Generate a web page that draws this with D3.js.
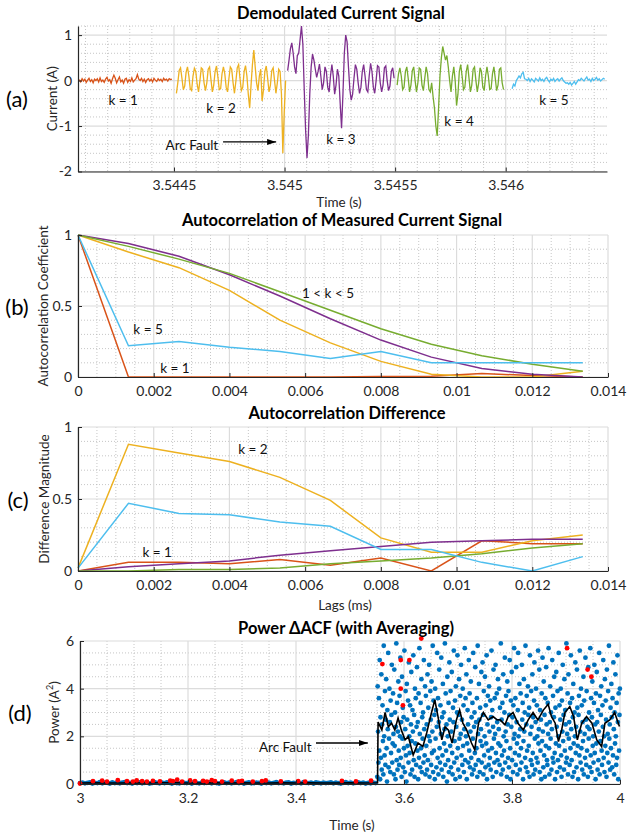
<!DOCTYPE html>
<html><head><meta charset="utf-8">
<script src="https://cdnjs.cloudflare.com/ajax/libs/d3/7.8.5/d3.min.js"></script>
<style>body{margin:0;background:#fff}svg{display:block}text{font-family:Lato,"Open Sans",sans-serif}</style>
</head><body><svg id="c" width="628" height="835"></svg>
<script>
// ---------------- DATA ----------------
// Panel (a): demodulated current, one segment per window k (A), sampled every sampleStepA seconds
const sampleStepA = 6.25e-6;
const segStartA = [3.544072, 3.544511, 3.545014, 3.545509, 3.546029];
const curK1 = [0.02,-0.03,0.04,-0.01,0.03,-0.04,0.01,0.05,-0.02,0.02,-0.05,0.03,0.00,0.04,-0.03,0.06,-0.02,0.01,-0.04,0.03,0.07,-0.01,0.02,-0.06,0.04,0.12,0.05,-0.05,0.02,0.08,-0.03,0.01,-0.06,0.03,0.05,-0.04,0.02,-0.02,0.06,-0.03,0.01,0.04,0.13,0.03,0.00,0.05,-0.02,0.03,-0.04,0.02,0.04,-0.01,0.03,-0.03,0.05,0.01,-0.02,0.04,0.00,0.03,-0.02,0.05,0.01,0.03,-0.01,0.04,0.02,0.03];
const curK2 = [-0.28,-0.05,0.22,0.28,0.05,-0.2,-0.12,0.18,0.30,0.10,-0.18,-0.22,0.10,0.27,0.2,-0.08,-0.25,0.0,0.28,0.25,-0.05,-0.22,-0.05,0.25,0.3,0.02,-0.25,-0.1,0.2,0.32,0.08,-0.2,-0.18,0.15,0.3,0.15,-0.15,-0.25,0.05,0.3,0.25,-0.05,-0.28,-0.02,0.28,0.35,0.05,-0.22,-0.15,0.2,0.33,0.1,-0.3,-0.6,-0.1,0.35,0.67,0.3,-0.05,-0.22,0.1,0.25,-0.45,-0.2,0.2,0.32,0.05,-0.25,-0.1,0.22,0.28,0.0,-0.28,-0.05,0.25,0.2,-0.3,-1.6,-0.7,0.0];
const curK3 = [0.22,0.45,0.7,0.83,0.6,0.3,0.15,0.55,0.6,0.9,1.2,0.8,-0.2,-1.1,-1.7,-1.2,-0.3,0.3,0.58,0.45,0.25,0.07,0.2,0.36,0.1,-0.2,-0.05,0.3,0.2,-0.15,-0.25,0.1,0.35,0.1,-0.3,-0.1,0.25,0.1,-0.5,-1.05,-0.3,0.6,1.0,0.85,0.3,-0.2,-0.43,-0.3,0.05,0.35,0.25,-0.05,-0.28,-0.15,0.2,0.35,0.1,-0.2,-0.25,0.1,0.38,0.2,-0.15,-0.28,0.0,0.33,0.3,-0.05,-0.25,-0.1,0.28,0.32,0.0,-0.22,-0.12,0.2,0.28,0.05];
const curK4 = [-0.1,0.15,0.28,0.1,-0.2,-0.15,0.2,0.3,0.05,-0.25,-0.1,0.22,0.3,0.0,-0.25,-0.05,0.28,0.25,-0.1,-0.22,0.05,0.3,0.15,-0.2,-0.25,-0.05,-0.35,-0.6,-1.0,-1.22,-0.6,0.1,0.5,0.75,0.6,0.45,0.55,0.3,0.0,-0.25,0.1,0.3,0.0,-0.55,-0.3,0.2,0.35,0.1,-0.2,-0.15,0.2,0.35,0.05,-0.25,-0.1,0.25,0.3,0.0,-0.25,-0.05,0.28,0.2,-0.15,-0.22,0.1,0.3,0.1,-0.2,-0.18,0.15,0.3,0.05,-0.22,-0.1,0.25,0.28,-0.05,-0.2];
const curK5 = [-0.18,-0.08,-0.12,0.0,0.05,0.1,0.06,0.15,0.18,0.04,0.03,0.0,0.05,-0.02,0.04,0.01,-0.03,0.05,0.02,-0.01,0.06,0.0,0.03,-0.02,0.04,0.07,0.01,-0.03,0.03,0.0,0.05,-0.02,0.02,0.04,-0.01,0.03,0.06,0.0,-0.03,-0.06,-0.05,-0.08,-0.04,-0.1,-0.06,-0.02,-0.08,-0.03,0.02,0.0,0.05,0.02,-0.01,0.04,0.08,0.01,0.03,-0.02,0.05,0.0,0.03,0.07,0.01,0.04,-0.01,0.02,0.05,0.03];
const segNames = ["k = 1","k = 2","k = 3","k = 4","k = 5"];
const segColors = ["#d95319","#edb120","#7e2f8e","#77ac30","#4dbeee"];

// Panels (b) and (c): lags (s)
const lags = [0,0.001333,0.002667,0.004,0.005333,0.006667,0.008,0.009333,0.010667,0.012,0.013333];
const acfK1 = [1,0,0,0,0,0,0.003,0.005,0.025,0.01,0];
const acfK2 = [1,0.88,0.77,0.61,0.40,0.24,0.11,0.02,0.0,0.0,0.04];
const acfK3 = [1,0.94,0.85,0.72,0.57,0.41,0.26,0.14,0.06,0.02,0.0];
const acfK4 = [1,0.92,0.83,0.73,0.60,0.47,0.34,0.23,0.15,0.09,0.04];
const acfK5 = [1,0.22,0.25,0.21,0.18,0.13,0.18,0.10,0.10,0.10,0.10];
const difK1 = [0,0.06,0.06,0.05,0.08,0.04,0.09,0.0,0.21,0.19,0.19];
const difK2 = [0.02,0.88,0.82,0.76,0.65,0.49,0.23,0.13,0.13,0.21,0.25];
const difK3 = [0,0.03,0.05,0.07,0.11,0.14,0.17,0.20,0.21,0.22,0.22];
const difK4 = [0,0.0,0.01,0.01,0.02,0.05,0.07,0.09,0.12,0.16,0.19];
const difK5 = [0.02,0.47,0.40,0.39,0.34,0.31,0.15,0.15,0.06,0.0,0.10];

// Panel (d): power of delta-ACF (A^2)
const preStart = 3.0, preStep = 0.0046;
const powerPre = [0.04,0.06,0.03,0.05,0.07,0.02,0.05,0.04,0.08,0.03,0.06,0.05,0.02,0.07,0.04,0.05,0.03,0.06,0.08,0.04,0.05,0.02,0.06,0.04,0.07,0.03,0.05,0.06,0.02,0.04,0.08,0.05,0.03,0.06,0.04,0.07,0.05,0.02,0.06,0.04,0.03,0.07,0.05,0.04,0.06,0.02,0.08,0.05,0.03,0.06,0.04,0.05,0.07,0.03,0.06,0.04,0.02,0.05,0.07,0.04,0.06,0.03,0.05,0.08,0.04,0.06,0.02,0.05,0.07,0.03,0.04,0.06,0.05,0.02,0.07,0.04,0.06,0.03,0.05,0.08,0.04,0.05,0.03,0.06,0.07,0.02,0.05,0.04,0.06,0.03,0.08,0.05,0.04,0.06,0.02,0.07,0.05,0.03,0.06,0.04,0.05,0.07,0.03,0.06,0.04,0.02,0.05,0.08,0.04,0.06,0.03,0.05,0.07,0.04,0.06,0.02,0.05,0.03,0.06,0.04];
const postStart = 3.5505, postStep = 0.00075;
const powerPost = [0.3,4.1,2.2,0.9,3.6,1.4,5.2,0.2,2.8,1.1,4.6,0.6,2.5,3.3,1.8,0.4,5.8,2.0,1.2,3.9,
0.8,2.7,4.4,1.5,0.1,3.1,2.3,5.5,0.7,1.9,4.0,2.6,0.5,3.5,1.3,2.9,5.0,0.9,1.7,3.8,
2.1,0.4,4.8,1.6,3.0,0.2,2.4,5.9,1.0,3.4,0.6,2.2,4.3,1.4,0.8,3.7,2.0,5.3,1.1,2.6,
0.3,4.5,1.9,3.2,0.7,2.8,1.5,5.6,0.5,2.3,3.9,1.2,0.1,4.2,2.7,1.6,3.5,0.9,5.1,2.0,
1.3,3.3,0.4,2.5,4.7,1.8,0.6,3.1,2.2,5.4,1.0,2.9,0.3,4.0,1.7,3.6,0.8,2.4,4.9,1.4,
2.6,0.2,3.8,1.1,5.7,2.1,0.7,3.4,1.5,4.4,0.5,2.8,1.9,3.0,0.9,5.2,2.3,1.2,4.1,0.4,
3.7,1.6,2.5,0.6,4.6,1.0,3.2,2.0,5.0,0.3,1.8,3.9,2.7,0.8,4.3,1.3,2.2,5.8,0.5,3.5,
1.4,2.9,0.2,4.0,1.9,3.1,0.7,2.4,5.5,1.1,3.6,0.4,2.6,4.8,1.5,0.9,3.3,2.1,5.3,0.6,
2.8,1.2,4.2,0.3,3.0,1.7,2.3,5.9,0.8,3.8,1.4,2.5,0.1,4.5,2.0,1.0,3.4,0.5,5.1,2.7,
1.6,3.9,0.7,2.2,4.7,1.3,0.4,3.2,2.6,5.6,0.9,1.8,3.5,0.2,4.1,2.4,1.1,3.0,5.4,1.5,
0.6,2.9,4.4,1.9,0.3,3.7,2.1,5.0,1.2,2.7,0.8,4.0,1.6,3.3,0.5,2.3,5.7,1.0,3.6,2.0,
4.6,0.2,1.7,3.1,2.5,0.9,5.2,1.4,3.8,0.7,2.2,4.3,1.1,2.8,0.4,3.4,1.9,5.5,0.6,2.4,
3.0,1.3,4.9,0.8,2.6,1.5,3.6,0.3,5.8,2.1,1.0,4.2,2.7,0.5,3.2,1.8,2.3,4.7,0.9,1.6,
5.1,2.9,0.4,3.9,1.2,2.0,4.5,0.7,3.3,1.7,5.4,0.2,2.5,3.7,1.4,0.8,4.1,2.2,1.1,3.5,
0.6,2.8,5.6,1.5,3.1,0.3,2.4,4.8,1.9,0.9,3.6,2.1,5.0,1.3,0.5,3.8,2.6,1.0,4.4,1.7,
2.3,4.0,0.8,3.2,1.6,5.9,0.4,2.7,1.2,3.4,0.6,4.6,2.0,1.4,3.0,5.3,0.9,2.2,3.7,1.8,
0.3,4.3,2.5,1.1,3.9,0.7,2.9,5.2,1.5,0.2,3.5,2.4,4.7,1.0,2.8,0.5,3.3,1.9,5.7,2.1,
1.3,3.6,0.8,4.9,2.6,1.7,0.4,3.1,5.5,2.0,1.2,4.2,0.6,2.3,3.8,1.5,0.9,5.0,2.7,3.4,
0.2,1.8,4.4,2.2,3.0,1.1,5.8,0.7,2.5,3.7,1.4,0.5,4.1,2.9,1.6,3.2,0.3,5.4,2.1,1.0,
3.9,2.4,0.8,4.6,1.3,2.8,0.4,3.5,5.1,1.9,0.6,2.6,4.0,1.1,3.3,2.0,0.9,5.6,1.7,2.3,
4.8,0.5,3.1,1.4,2.7,0.2,3.8,1.8,5.3,2.2,0.7,4.3,1.2,2.9,0.3,3.6,1.6,4.9,2.5,1.0,
0.8,3.4,2.1,5.7,1.5,0.4,2.6,4.1,1.9,3.0,0.6,2.3,5.2,1.1,3.7,0.9,2.8,4.5,1.3,0.2,
3.2,1.7,4.7,2.4,0.5,3.9,1.0,2.0,5.5,1.6,3.3,0.7,2.7,4.0,1.2,0.3,3.5,2.2,5.0,1.8,
2.9,0.6,4.4,1.4,3.1,2.5,0.9,5.9,1.1,2.1,3.8,0.4,4.6,1.9,2.6,0.8,3.4,1.5,5.4,2.3,
1.0,3.6,0.3,2.8,4.2,1.7,0.5,3.0,2.0,5.1,1.3,2.4,0.7,4.8,3.2,1.6,0.2,2.9,3.7,1.2,
5.6,2.2,0.9,4.0,1.5,3.3,0.6,2.6,1.8,4.5,0.4,3.5,2.1,1.1,5.3,2.7,0.8,3.9,1.4,2.4,
0.3,4.9,1.9,3.0,2.3,0.7,5.7,1.2,3.6,0.5,2.8,4.3,1.6,2.0,0.9,3.4,5.0,1.3,2.5,0.2,
3.8,1.7,4.7,2.6,0.6,3.1,1.0,2.2,5.5,0.4,3.7,1.8,2.9,4.1,1.4,0.8,3.3,2.4,5.2,1.1,
2.0,0.5,4.4,1.6,3.5,2.7,0.3,4.8,1.3,2.1,3.9,0.9,5.8,1.9,2.5,0.6,3.2,1.5,4.2,2.8,
0.7,3.6,1.2,5.1,2.3,0.4,3.0,1.7,4.6,2.0,0.8,3.4,1.1,5.4,2.6,0.2,3.8,1.4,2.9,4.0];
const avgTime = [3.000,3.025,3.050,3.075,3.100,3.125,3.150,3.175,3.200,3.225,3.250,3.275,3.300,3.325,3.350,3.375,3.400,3.425,3.450,3.475,3.500,3.525,3.551,
3.552,3.559,3.565,3.571,3.577,3.583,3.589,3.595,3.602,3.608,3.617,3.626,3.635,3.642,3.651,3.657,3.663,3.670,3.676,3.682,3.689,3.697,3.703,3.709,3.716,3.725,3.731,3.738,3.747,3.756,3.765,3.772,3.778,3.787,3.793,3.802,3.811,3.821,3.830,3.839,3.848,3.858,3.867,3.873,3.880,3.886,3.892,3.898,3.907,3.914,3.921,3.929,3.938,3.948,3.957,3.966,3.972,3.981,3.990,3.999];
const avgPower = [0.04,0.05,0.04,0.04,0.05,0.04,0.05,0.05,0.04,0.04,0.05,0.04,0.05,0.04,0.04,0.05,0.04,0.05,0.04,0.04,0.05,0.04,0.05,
2.6,2.27,3.0,2.4,2.55,2.27,2.77,2.27,1.85,1.99,1.22,1.72,1.58,2.14,3.0,3.53,2.83,1.85,2.4,2.27,1.72,2.69,3.11,2.55,2.27,1.72,1.44,2.55,3.0,2.69,2.83,2.7,2.69,2.48,2.83,3.0,2.55,2.27,2.69,3.0,2.69,3.1,3.35,2.83,2.55,1.78,2.27,3.0,3.25,2.83,1.85,2.55,2.83,2.55,1.85,1.57,2.55,2.69,3.0,2.41];
const redTime = [3.000,3.024,3.041,3.050,3.070,3.087,3.098,3.105,3.115,3.124,3.135,3.148,3.167,3.172,3.180,3.189,3.204,3.213,3.228,3.235,3.244,3.250,3.263,3.281,3.294,3.300,3.320,3.337,3.344,3.372,3.404,3.417,3.485,3.511,3.539,3.560,3.594,3.610,3.594,3.598,3.632,3.902,3.940,3.947];
const redPower = [0.02,0.12,0.14,0.1,0.16,0.12,0.1,0.15,0.12,0.1,0.13,0.11,0.14,0.12,0.18,0.1,0.15,0.12,0.13,0.1,0.16,0.12,0.1,0.14,0.11,0.13,0.1,0.12,0.15,0.11,0.12,0.1,0.13,0.11,0.14,5.03,5.2,5.2,4.0,3.3,6.1,5.7,4.8,4.5];

// ticks
const ticksAx = [3.5445,3.545,3.5455,3.546], ticksAy = [-2,-1,0,1];
const ticksLag = [0,0.002,0.004,0.006,0.008,0.01,0.012,0.014], ticksBy = [0,0.5,1];
const ticksDx = [3,3.2,3.4,3.6,3.8,4], ticksDy = [0,2,4,6];

// ---------------- DRAW ----------------
const svg = d3.select("#c");
const defs = svg.append("defs");
defs.append("marker").attr("id","arr").attr("viewBox","0 0 10 10").attr("refX",10).attr("refY",5)
  .attr("markerWidth",9).attr("markerHeight",6).attr("markerUnits","userSpaceOnUse")
  .attr("preserveAspectRatio","none").attr("orient","auto")
  .append("path").attr("d","M0,0L10,5L0,10z").attr("fill","#000");

const AX = "#262626";
function minorVals(scale, step, major){
  const [a,b] = scale.domain(); const out=[];
  for(let k=Math.ceil(a/step-1e-9); k*step<=b+1e-12; k++){
    const v=k*step; const r=v/major;
    if(Math.abs(r-Math.round(r))>1e-6) out.push(v);
  }
  return out;
}
function fmt(d){ return String(+d.toFixed(4)); }

function panel(cfg){
  const g = svg.append("g");
  const {x,y} = cfg;
  const [xl,xr] = x.range(), [yb,yt] = y.range();
  const gg = g.append("g");
  gg.selectAll(".mx").data(minorVals(x,cfg.xMinor,cfg.xMajor)).join("line")
    .attr("x1",d=>x(d)).attr("x2",d=>x(d)).attr("y1",yt).attr("y2",yb)
    .attr("stroke","#b8b8b8").attr("stroke-width",0.8).attr("stroke-dasharray","1,2");
  gg.selectAll(".my").data(minorVals(y,cfg.yMinor,cfg.yMajor)).join("line")
    .attr("y1",d=>y(d)).attr("y2",d=>y(d)).attr("x1",xl).attr("x2",xr)
    .attr("stroke","#b8b8b8").attr("stroke-width",0.8).attr("stroke-dasharray","1,2");
  gg.selectAll(".Mx").data(cfg.xt).join("line")
    .attr("x1",d=>x(d)).attr("x2",d=>x(d)).attr("y1",yt).attr("y2",yb)
    .attr("stroke","#dcdcdc").attr("stroke-width",1.2);
  gg.selectAll(".My").data(cfg.yt).join("line")
    .attr("y1",d=>y(d)).attr("y2",d=>y(d)).attr("x1",xl).attr("x2",xr)
    .attr("stroke","#dcdcdc").attr("stroke-width",1.2);
  const plot = g.append("g");
  const axes = g.append("g");
  const xa = axes.append("g").attr("transform",`translate(0,${yb})`)
    .call(d3.axisBottom(x).tickValues(cfg.xt).tickSize(-4).tickSizeOuter(0).tickPadding(9).tickFormat(fmt));
  const ya = axes.append("g").attr("transform",`translate(${xl},0)`)
    .call(d3.axisLeft(y).tickValues(cfg.yt).tickSize(-4).tickSizeOuter(0).tickPadding(6).tickFormat(fmt));
  [xa,ya].forEach(a=>{
    a.attr("font-size",14).attr("font-family","Lato");
    a.select(".domain").attr("stroke",AX).attr("stroke-width",1.2);
    a.selectAll(".tick line").attr("stroke",AX);
    a.selectAll(".tick text").attr("fill",AX);
  });
  // title
  g.append("text").attr("x",cfg.titleX).attr("y",cfg.titleY).attr("text-anchor","middle")
    .attr("font-weight","bold").attr("font-size",16.5).attr("fill","#000").text(cfg.title);
  // y label
  g.append("text").attr("transform",`translate(${cfg.ylabX},${(yb+yt)/2}) rotate(-90)`)
    .attr("text-anchor","middle").attr("dominant-baseline","central").attr("font-size",13.5).attr("fill",AX)
    .call(t=>{ t.text(cfg.ylab); if(cfg.ysup){ t.append("tspan").attr("font-size",9).attr("dy",-5).text("2"); t.append("tspan").attr("dy",5).text(")"); }});
  if(cfg.xlab) g.append("text").attr("x",cfg.xlabX).attr("y",cfg.xlabY).attr("text-anchor","middle")
    .attr("dominant-baseline","central").attr("font-size",13.5).attr("fill",AX).text(cfg.xlab);
  g.append("text").attr("x",cfg.tagX).attr("y",(yb+yt)/2).attr("text-anchor","middle").attr("dominant-baseline","central")
    .attr("font-family","'Liberation Serif','Times New Roman',serif").attr("font-size",22).attr("fill","#000").text(cfg.tag);
  return plot;
}
function note(plot, x, y, tx, ty, s){
  plot.append("text").attr("x",x(tx)).attr("y",y(ty)).attr("text-anchor","middle").attr("dominant-baseline","central")
    .attr("font-size",13.5).attr("fill","#111").text(s);
}
function arrow(plot, x, y, t0, t1, v){
  plot.append("line").attr("x1",x(t0)).attr("x2",x(t1)).attr("y1",y(v)).attr("y2",y(v))
    .attr("stroke","#000").attr("stroke-width",1.3).attr("marker-end","url(#arr)");
}

// Panel (a)
{
  const x = d3.scaleLinear().domain([3.544066,3.546458]).range([78,607]);
  const y = d3.scaleLinear().domain([-2,1.2]).range([171.5,26]);
  const p = panel({x,y,xt:ticksAx,yt:ticksAy,xMajor:0.0005,xMinor:0.0001,yMajor:1,yMinor:0.2,
    title:"Demodulated Current Signal",titleX:341,titleY:19,ylab:"Current (A)",ylabX:52,
    xlab:"Time (s)",xlabX:339,xlabY:202,tag:"(a)",tagX:17});
  const segs=[curK1,curK2,curK3,curK4,curK5];
  const line=d3.line().x(d=>x(d.t)).y(d=>y(d.v));
  segs.forEach((vals,k)=>{
    const data=vals.map((v,i)=>({t:segStartA[k]+i*sampleStepA,v}));
    p.append("path").datum(data).attr("d",line).attr("fill","none").attr("stroke",segColors[k]).attr("stroke-width",1.3);
  });
  const lab=[[3.54427,-0.43],[3.544713,-0.60],[3.545255,-1.28],[3.545789,-0.89],[3.546218,-0.43]];
  lab.forEach((l,i)=>note(p,x,y,l[0],l[1],segNames[i]));
  note(p,x,y,3.544581,-1.42,"Arc Fault");
  arrow(p,x,y,3.544722,3.544962,-1.35);
}
// Panel (b)
{
  const x = d3.scaleLinear().domain([0,0.014]).range([78,608]);
  const y = d3.scaleLinear().domain([0,1]).range([377,235]);
  const p = panel({x,y,xt:ticksLag,yt:ticksBy,xMajor:0.002,xMinor:0.0005,yMajor:0.5,yMinor:0.1,
    title:"Autocorrelation of Measured Current Signal",titleX:342,titleY:226,ylab:"Autocorrelation Coefficient",ylabX:43,
    tag:"(b)",tagX:17});
  const line=d3.line().x((d,i)=>x(lags[i])).y(d=>y(d));
  [acfK1,acfK2,acfK3,acfK4,acfK5].forEach((s,k)=>p.append("path").datum(s).attr("d",line).attr("fill","none").attr("stroke",segColors[k]).attr("stroke-width",1.5));
  note(p,x,y,0.006604,0.59,"1 < k < 5");
  note(p,x,y,0.00185,0.34,"k = 5");
  note(p,x,y,0.00256,0.065,"k = 1");
}
// Panel (c)
{
  const x = d3.scaleLinear().domain([0,0.014]).range([78,608]);
  const y = d3.scaleLinear().domain([0,1]).range([571,427]);
  const p = panel({x,y,xt:ticksLag,yt:ticksBy,xMajor:0.002,xMinor:0.0005,yMajor:0.5,yMinor:0.1,
    title:"Autocorrelation Difference",titleX:347,titleY:419,ylab:"Difference Magnitude",ylabX:44,
    xlab:"Lags (ms)",xlabX:345,xlabY:605,tag:"(c)",tagX:18});
  const line=d3.line().x((d,i)=>x(lags[i])).y(d=>y(d));
  [difK1,difK2,difK3,difK4,difK5].forEach((s,k)=>p.append("path").datum(s).attr("d",line).attr("fill","none").attr("stroke",segColors[k]).attr("stroke-width",1.5));
  note(p,x,y,0.00462,0.85,"k = 2");
  note(p,x,y,0.00209,0.13,"k = 1");
}
// Panel (d)
{
  const x = d3.scaleLinear().domain([3,4]).range([80,620]);
  const y = d3.scaleLinear().domain([0,6]).range([784,641]);
  const p = panel({x,y,xt:ticksDx,yt:ticksDy,xMajor:0.2,xMinor:0.05,yMajor:2,yMinor:0.5,
    title:"Power \u0394ACF (with Averaging)",titleX:346,titleY:634,ylab:"Power (A",ysup:true,ylabX:54,
    xlab:"Time (s)",xlabX:352,xlabY:825,tag:"(d)",tagX:20});
  const pts = powerPre.map((v,i)=>({t:preStart+i*preStep,v})).concat(powerPost.map((v,i)=>({t:postStart+i*postStep,v})));
  p.append("g").selectAll("circle").data(pts).join("circle")
    .attr("cx",d=>x(d.t)).attr("cy",d=>y(d.v)).attr("r",2.4).attr("fill","#0072bd");
  p.append("path").datum(avgTime.map((t,i)=>({t,v:avgPower[i]})))
    .attr("d",d3.line().x(d=>x(d.t)).y(d=>y(d.v))).attr("fill","none").attr("stroke","#000").attr("stroke-width",1.6);
  p.append("g").selectAll("circle").data(redTime.map((t,i)=>({t,v:redPower[i]}))).join("circle")
    .attr("cx",d=>x(d.t)).attr("cy",d=>y(d.v)).attr("r",2.4).attr("fill","#ff0000");
  note(p,x,y,3.38,1.55,"Arc Fault");
  arrow(p,x,y,3.437,3.533,1.72);
}
</script></body></html>
